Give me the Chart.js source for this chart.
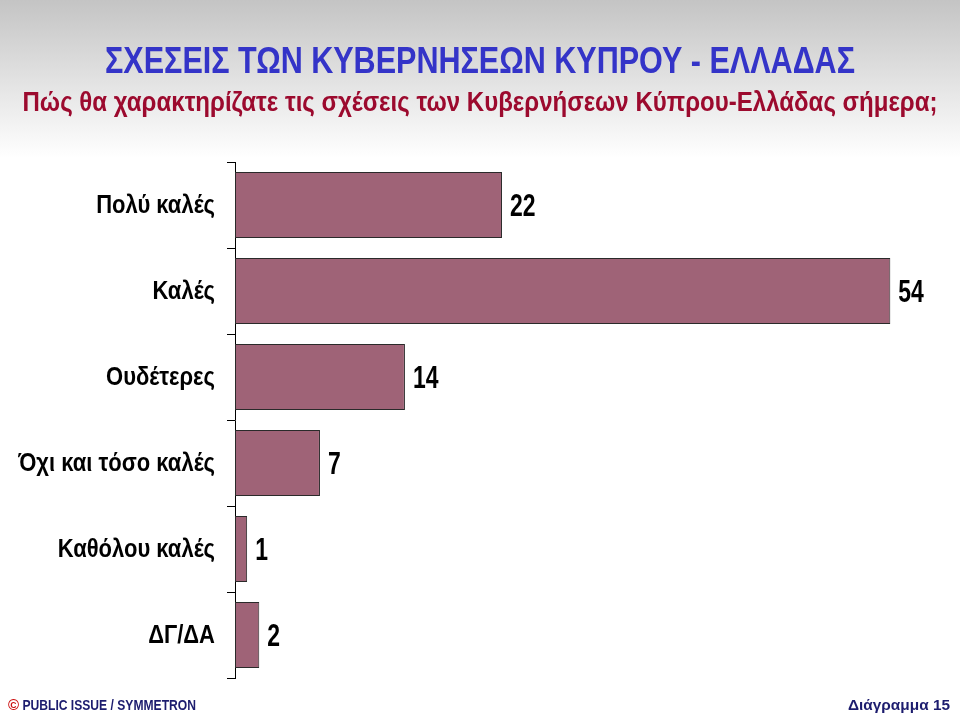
<!DOCTYPE html>
<html>
<head>
<meta charset="utf-8">
<script src="https://cdn.jsdelivr.net/npm/chart.js@4.4.1/dist/chart.umd.min.js"></script>
<style>
  html, body { margin: 0; padding: 0; background: #fff; }
  canvas { display: block; }
</style>
</head>
<body>
<canvas id="chart" width="960" height="715"></canvas>
<script>
const FONT = "'Liberation Sans', Arial, sans-serif";

const categories = ['Πολύ καλές', 'Καλές', 'Ουδέτερες', 'Όχι και τόσο καλές', 'Καθόλου καλές', 'ΔΓ/ΔΑ'];
const values = [22, 54, 14, 7, 1, 2];

const titleText = 'ΣΧΕΣΕΙΣ ΤΩΝ ΚΥΒΕΡΝΗΣΕΩΝ ΚΥΠΡΟΥ - ΕΛΛΑΔΑΣ';
const subtitleText = 'Πώς θα χαρακτηρίζατε τις σχέσεις των Κυβερνήσεων Κύπρου-Ελλάδας σήμερα;';
const sourceText = ' PUBLIC ISSUE / SYMMETRON';
const pageText = 'Διάγραμμα 15';

// no narrow font installed, so squeeze text horizontally
function narrowText(ctx, text, x, y, font, color, sx, align) {
  ctx.save();
  ctx.font = font;
  ctx.fillStyle = color;
  ctx.textBaseline = 'middle';
  ctx.textAlign = align || 'left';
  ctx.translate(x, y);
  ctx.scale(sx, 1);
  ctx.fillText(text, 0, 0);
  ctx.restore();
}

function fitText(ctx, text, x, y, font, color, targetW, align) {
  ctx.save();
  ctx.font = font;
  const sx = targetW / ctx.measureText(text).width;
  ctx.restore();
  narrowText(ctx, text, x, y, font, color, sx, align);
}

const pagePlugin = {
  id: 'page',
  beforeDraw(chart) {
    const ctx = chart.ctx;
    const g = ctx.createLinearGradient(0, 0, 0, 158);
    g.addColorStop(0, '#c4c4c4');
    g.addColorStop(1, '#ffffff');
    ctx.save();
    ctx.fillStyle = '#ffffff';
    ctx.fillRect(0, 0, chart.width, chart.height);
    ctx.fillStyle = g;
    ctx.fillRect(0, 0, chart.width, 158);
    ctx.restore();

    fitText(ctx, titleText, 480, 63, 'bold 36px ' + FONT, '#3434c8', 750, 'center');
    fitText(ctx, subtitleText, 480, 103, 'bold 28px ' + FONT, '#9c0a2e', 915, 'center');

    // footer
    ctx.save();
    ctx.font = 'bold 15px ' + FONT;
    const cw = ctx.measureText('©').width;
    ctx.restore();
    narrowText(ctx, '©', 8, 706, 'bold 15px ' + FONT, '#cc1010', 1, 'left');
    fitText(ctx, sourceText, 8 + cw, 706, 'bold 15px ' + FONT, '#1c1c6e', 188 - cw, 'left');
    fitText(ctx, pageText, 950, 706, 'bold 15px ' + FONT, '#1c1c6e', 102, 'right');
  },
  afterDraw(chart) {
    // category labels, right aligned left of the tick marks
    const y = chart.scales.y;
    categories.forEach((c, i) => {
      narrowText(chart.ctx, c, 215, y.getPixelForTick(i) + 1, 'bold 25px ' + FONT, '#000', 0.88, 'right');
    });
  },
  afterDatasetsDraw(chart) {
    const meta = chart.getDatasetMeta(0);
    meta.data.forEach((bar, i) => {
      narrowText(chart.ctx, String(values[i]), bar.x + 8, bar.y + 2, 'bold 31px ' + FONT, '#000', 0.74, 'left');
    });
  }
};

new Chart(document.getElementById('chart'), {
  type: 'bar',
  data: {
    labels: categories,
    datasets: [{
      data: values,
      backgroundColor: '#9f6377',
      borderColor: '#2a2a2a',
      borderWidth: 1,
      borderSkipped: false,
      categoryPercentage: 1,
      barPercentage: 0.77
    }]
  },
  options: {
    indexAxis: 'y',
    responsive: false,
    animation: false,
    devicePixelRatio: 1,
    layout: { padding: { top: 162, bottom: 37, left: 0, right: 9 } },
    plugins: {
      legend: { display: false },
      title: { display: false },
      tooltip: { enabled: false }
    },
    scales: {
      x: {
        display: false,
        min: 0,
        max: 59
      },
      y: {
        afterFit(scale) { scale.width = 235; },
        border: { display: true, color: '#000', width: 1 },
        grid: {
          offset: true,
          drawOnChartArea: false,
          drawTicks: true,
          tickLength: 8,
          color: '#000',
          lineWidth: 1
        },
        ticks: { display: false }
      }
    }
  },
  plugins: [pagePlugin]
});
</script>
</body>
</html>
